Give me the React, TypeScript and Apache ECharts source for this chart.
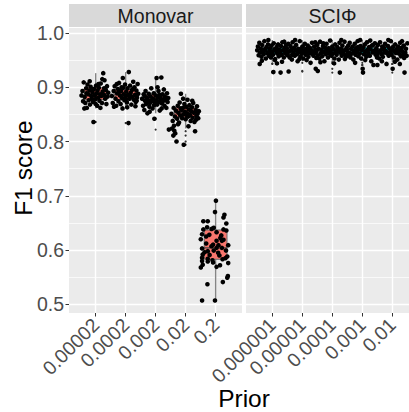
import React, { useEffect, useRef } from "react";
import * as echarts from "echarts";

// Prior values on each facet's x axis
const monovarPriors = ["0.00002", "0.0002", "0.002", "0.02", "0.2"];
const sciphiPriors = ["0.000001", "0.00001", "0.0001", "0.001", "0.01"];
const yTicks = [0.5, 0.6, 0.7, 0.8, 0.9, 1.0];
const yMinorTicks = [0.55, 0.65, 0.75, 0.85, 0.95];

// F1 score of each run, as [horizontal jitter, F1]
const monovar1 = [
  [-0.42, 0.893], [-0.38, 0.909], [-0.35, 0.882], [-0.33, 0.871], [-0.3, 0.898], [-0.28, 0.862], [-0.26, 0.905],
  [-0.24, 0.887], [-0.22, 0.876], [-0.2, 0.894], [-0.18, 0.868], [-0.16, 0.901], [-0.14, 0.884], [-0.12, 0.879],
  [-0.1, 0.891], [-0.08, 0.873], [-0.07, 0.836], [-0.05, 0.897], [-0.03, 0.885], [-0.01, 0.878], [0.01, 0.903],
  [0.03, 0.889], [0.05, 0.866], [0.06, 0.894], [0.08, 0.881], [0.1, 0.899], [0.12, 0.875], [0.14, 0.887],
  [0.16, 0.907], [0.18, 0.884], [0.2, 0.871], [0.22, 0.892], [0.24, 0.926], [0.26, 0.886], [0.28, 0.913],
  [0.3, 0.879], [0.32, 0.895], [0.34, 0.869], [0.36, 0.902], [0.38, 0.883], [-0.4, 0.874], [-0.36, 0.861],
  [-0.19, 0.911], [-0.11, 0.896], [0.0, 0.869], [0.09, 0.906], [0.15, 0.862], [0.27, 0.898], [0.33, 0.882],
  [-0.29, 0.889], [0.21, 0.915], [-0.45, 0.885], [0.4, 0.89],
];
const monovar2 = [
  [-0.44, 0.884], [-0.41, 0.871], [-0.38, 0.893], [-0.35, 0.902], [-0.32, 0.879], [-0.3, 0.866], [-0.27, 0.889],
  [-0.25, 0.897], [-0.23, 0.874], [-0.21, 0.908], [-0.18, 0.885], [-0.16, 0.869], [-0.14, 0.893], [-0.12, 0.88],
  [-0.1, 0.861], [-0.08, 0.899], [-0.06, 0.887], [-0.04, 0.876], [-0.02, 0.905], [0.0, 0.883], [0.02, 0.892],
  [0.04, 0.872], [0.06, 0.898], [0.08, 0.886], [0.09, 0.834], [0.1, 0.928], [0.12, 0.879], [0.14, 0.903],
  [0.16, 0.89], [0.18, 0.868], [0.2, 0.895], [0.22, 0.882], [0.24, 0.91], [0.26, 0.877], [0.28, 0.9],
  [0.3, 0.886], [0.32, 0.873], [0.34, 0.894], [0.36, 0.881], [0.38, 0.906], [0.4, 0.888], [-0.37, 0.864],
  [-0.2, 0.892], [-0.09, 0.917], [0.05, 0.863], [0.13, 0.885], [0.23, 0.897], [0.31, 0.865], [-0.28, 0.906],
  [0.35, 0.875], [0.01, 0.878], [-0.13, 0.9],
];
const monovar3 = [
  [-0.43, 0.879], [-0.4, 0.866], [-0.38, 0.887], [-0.36, 0.858], [-0.34, 0.875], [-0.32, 0.893], [-0.3, 0.869],
  [-0.28, 0.881], [-0.26, 0.852], [-0.24, 0.876], [-0.22, 0.888], [-0.2, 0.864], [-0.18, 0.871], [-0.16, 0.883],
  [-0.14, 0.898], [-0.12, 0.874], [-0.1, 0.861], [-0.08, 0.879], [-0.06, 0.889], [-0.04, 0.842], [-0.02, 0.872],
  [0.0, 0.885], [0.02, 0.876], [0.03, 0.917], [0.05, 0.868], [0.07, 0.881], [0.09, 0.893], [0.11, 0.873],
  [0.13, 0.857], [0.15, 0.884], [0.17, 0.878], [0.18, 0.918], [0.2, 0.87], [0.22, 0.887], [0.24, 0.875],
  [0.26, 0.896], [0.28, 0.866], [0.3, 0.882], [0.32, 0.877], [0.34, 0.862], [0.36, 0.889], [0.38, 0.873],
  [0.4, 0.88], [-0.35, 0.884], [-0.19, 0.855], [-0.11, 0.877], [0.06, 0.9], [0.19, 0.861], [0.27, 0.879],
  [-0.27, 0.871], [0.12, 0.886], [-0.05, 0.867], [0.42, 0.822],
];
const monovar4 = [
  [-0.45, 0.851], [-0.43, 0.824], [-0.41, 0.838], [-0.39, 0.811], [-0.37, 0.829], [-0.36, 0.82], [-0.34, 0.846],
  [-0.33, 0.815], [-0.31, 0.857], [-0.29, 0.8], [-0.27, 0.842], [-0.25, 0.866], [-0.23, 0.853], [-0.21, 0.835],
  [-0.19, 0.872], [-0.17, 0.848], [-0.15, 0.888], [-0.13, 0.858], [-0.11, 0.843], [-0.09, 0.862], [-0.07, 0.85],
  [-0.06, 0.794], [-0.04, 0.869], [-0.02, 0.855], [0.0, 0.841], [0.02, 0.864], [0.04, 0.852], [0.06, 0.877],
  [0.08, 0.846], [0.1, 0.859], [0.12, 0.867], [0.14, 0.849], [0.16, 0.838], [0.18, 0.856], [0.2, 0.863],
  [0.22, 0.844], [0.24, 0.871], [0.26, 0.853], [0.28, 0.836], [0.3, 0.819], [0.32, 0.858], [0.34, 0.847],
  [0.36, 0.865], [0.38, 0.851], [0.4, 0.843], [0.42, 0.856], [-0.38, 0.862], [-0.24, 0.832], [-0.08, 0.879],
  [0.09, 0.828], [0.21, 0.875], [0.33, 0.84], [-0.16, 0.861], [0.05, 0.847],
];
const monovar5 = [
  [0.01, 0.691], [-0.02, 0.67], [0.28, 0.665], [0.25, 0.66], [0.34, 0.649], [-0.39, 0.653], [-0.25, 0.653],
  [-0.27, 0.642], [-0.39, 0.638], [-0.13, 0.639], [-0.06, 0.641], [0.25, 0.638], [0.34, 0.636], [0.03, 0.633],
  [-0.43, 0.629], [-0.3, 0.625], [-0.47, 0.62], [0.25, 0.619], [0.03, 0.617], [0.2, 0.617], [-0.08, 0.61],
  [0.09, 0.609], [0.4, 0.609], [-0.3, 0.612], [-0.13, 0.607], [0.03, 0.604], [0.2, 0.604], [-0.43, 0.603],
  [-0.25, 0.598], [-0.06, 0.599], [0.33, 0.599], [-0.41, 0.592], [-0.19, 0.591], [0.12, 0.59], [-0.43, 0.586],
  [-0.25, 0.584], [-0.1, 0.581], [0.31, 0.585], [0.37, 0.588], [-0.43, 0.58], [-0.25, 0.579], [-0.08, 0.577],
  [0.03, 0.569], [0.14, 0.572], [-0.41, 0.573], [-0.47, 0.568], [0.39, 0.552], [0.37, 0.549], [0.23, 0.541],
  [-0.26, 0.537], [-0.43, 0.507], [-0.02, 0.507], [0.15, 0.622], [-0.2, 0.628], [0.08, 0.595], [-0.35, 0.596],
  [0.22, 0.583], [0.4, 0.576], [0.18, 0.627],
];

const sciphi1 = [
  [-0.42, 0.968], [-0.4, 0.975], [-0.38, 0.959], [-0.36, 0.982], [-0.34, 0.964], [-0.35, 0.943], [-0.32, 0.971],
  [-0.3, 0.956], [-0.28, 0.978], [-0.26, 0.966], [-0.24, 0.961], [-0.22, 0.985], [-0.2, 0.969], [-0.18, 0.953],
  [-0.16, 0.974], [-0.14, 0.963], [-0.12, 0.979], [-0.1, 0.958], [-0.08, 0.967], [-0.06, 0.972], [-0.04, 0.955],
  [-0.02, 0.977], [0.0, 0.965], [0.02, 0.96], [0.03, 0.928], [0.04, 0.981], [0.06, 0.97], [0.08, 0.952],
  [0.1, 0.967], [0.12, 0.974], [0.13, 0.944], [0.14, 0.962], [0.16, 0.979], [0.18, 0.957], [0.2, 0.969],
  [0.22, 0.965], [0.23, 0.927], [0.24, 0.976], [0.26, 0.96], [0.28, 0.983], [0.3, 0.968], [0.32, 0.955],
  [0.34, 0.973], [0.36, 0.963], [0.38, 0.978], [0.4, 0.966], [0.42, 0.959], [-0.29, 0.949], [-0.11, 0.987],
  [0.07, 0.95], [0.27, 0.947], [-0.19, 0.971], [0.15, 0.968], [0.33, 0.984], [-0.05, 0.962],
];
const sciphi2 = [
  [-0.43, 0.972], [-0.41, 0.961], [-0.39, 0.98], [-0.38, 0.929], [-0.37, 0.966], [-0.35, 0.955], [-0.33, 0.976],
  [-0.31, 0.969], [-0.29, 0.951], [-0.27, 0.983], [-0.25, 0.963], [-0.23, 0.973], [-0.21, 0.958], [-0.19, 0.968],
  [-0.17, 0.978], [-0.15, 0.961], [-0.13, 0.948], [-0.11, 0.971], [-0.09, 0.965], [-0.07, 0.985], [-0.05, 0.957],
  [-0.03, 0.969], [-0.01, 0.962], [0.01, 0.975], [0.03, 0.953], [0.05, 0.967], [0.07, 0.98], [0.09, 0.96],
  [0.11, 0.971], [0.13, 0.964], [0.15, 0.977], [0.17, 0.956], [0.19, 0.968], [0.21, 0.973], [0.23, 0.945],
  [0.25, 0.962], [0.27, 0.982], [0.29, 0.966], [0.31, 0.958], [0.33, 0.975], [0.35, 0.963], [0.37, 0.97],
  [0.39, 0.954], [0.41, 0.979], [0.43, 0.93], [-0.2, 0.987], [-0.08, 0.952], [0.0, 0.974], [0.12, 0.95],
  [0.24, 0.969], [0.36, 0.983], [-0.28, 0.96], [0.18, 0.963], [-0.12, 0.966],
];
const sciphi3 = [
  [-0.44, 0.966], [-0.46, 0.934], [-0.42, 0.978], [-0.4, 0.959], [-0.38, 0.971], [-0.36, 0.953], [-0.34, 0.984],
  [-0.32, 0.963], [-0.3, 0.969], [-0.28, 0.957], [-0.26, 0.976], [-0.24, 0.965], [-0.22, 0.948], [-0.2, 0.973],
  [-0.18, 0.961], [-0.16, 0.98], [-0.14, 0.967], [-0.12, 0.955], [-0.1, 0.972], [-0.08, 0.963], [-0.06, 0.986],
  [-0.04, 0.968], [-0.02, 0.958], [0.0, 0.975], [0.02, 0.962], [0.04, 0.97], [0.06, 0.953], [0.08, 0.979],
  [0.1, 0.965], [0.12, 0.96], [0.14, 0.974], [0.16, 0.968], [0.18, 0.951], [0.2, 0.982], [0.21, 0.927],
  [0.22, 0.964], [0.24, 0.971], [0.26, 0.958], [0.28, 0.977], [0.3, 0.966], [0.32, 0.961], [0.34, 0.984],
  [0.36, 0.969], [0.38, 0.956], [0.4, 0.973], [0.42, 0.963], [-0.33, 0.946], [-0.15, 0.971], [0.05, 0.944],
  [0.25, 0.987], [-0.05, 0.96], [0.13, 0.966], [0.35, 0.952], [-0.25, 0.981],
];
const sciphi4 = [
  [-0.43, 0.969], [-0.41, 0.958], [-0.39, 0.977], [-0.37, 0.964], [-0.35, 0.982], [-0.33, 0.955], [-0.31, 0.971],
  [-0.29, 0.962], [-0.27, 0.975], [-0.25, 0.951], [-0.23, 0.967], [-0.21, 0.98], [-0.19, 0.96], [-0.17, 0.972],
  [-0.15, 0.965], [-0.13, 0.985], [-0.11, 0.957], [-0.09, 0.97], [-0.07, 0.962], [-0.05, 0.976], [-0.03, 0.953],
  [-0.01, 0.968], [0.01, 0.934], [0.02, 0.927], [0.03, 0.973], [0.05, 0.961], [0.07, 0.979], [0.09, 0.966],
  [0.11, 0.956], [0.13, 0.983], [0.15, 0.969], [0.17, 0.963], [0.19, 0.974], [0.21, 0.958], [0.23, 0.97],
  [0.25, 0.948], [0.27, 0.977], [0.29, 0.964], [0.31, 0.941], [0.33, 0.967], [0.35, 0.981], [0.37, 0.96],
  [0.39, 0.972], [0.41, 0.955], [0.42, 0.941], [-0.2, 0.945], [-0.06, 0.987], [0.08, 0.95], [0.22, 0.986],
  [0.36, 0.966], [-0.34, 0.96], [-0.12, 0.974], [0.16, 0.959], [0.3, 0.978],
];
const sciphi5 = [
  [-0.44, 0.97], [-0.42, 0.959], [-0.4, 0.978], [-0.38, 0.965], [-0.36, 0.953], [-0.34, 0.983], [-0.32, 0.968],
  [-0.3, 0.961], [-0.28, 0.975], [-0.26, 0.956], [-0.24, 0.971], [-0.22, 0.964], [-0.2, 0.98], [-0.18, 0.967],
  [-0.16, 0.943], [-0.14, 0.962], [-0.12, 0.976], [-0.1, 0.958], [-0.08, 0.972], [-0.06, 0.965], [-0.04, 0.985],
  [-0.02, 0.96], [0.0, 0.969], [0.01, 0.934], [0.02, 0.974], [0.04, 0.955], [0.06, 0.966], [0.08, 0.979],
  [0.1, 0.963], [0.12, 0.97], [0.14, 0.951], [0.16, 0.975], [0.18, 0.962], [0.2, 0.968], [0.21, 0.943],
  [0.22, 0.982], [0.24, 0.957], [0.26, 0.973], [0.28, 0.966], [0.3, 0.96], [0.32, 0.977], [0.34, 0.927],
  [0.36, 0.964], [0.38, 0.971], [0.4, 0.958], [0.42, 0.981], [-0.29, 0.948], [-0.11, 0.987], [0.07, 0.947],
  [0.27, 0.985], [-0.23, 0.973], [0.13, 0.965], [0.33, 0.954], [-0.05, 0.963],
];

const monovarRuns = [monovar1, monovar2, monovar3, monovar4, monovar5];
const sciphiRuns = [sciphi1, sciphi2, sciphi3, sciphi4, sciphi5];

// Box summaries: [lower whisker, Q1, median, Q3, upper whisker]
const monovarBoxes = [
  [0.861, 0.877, 0.888, 0.899, 0.926],
  [0.861, 0.877, 0.886, 0.896, 0.928],
  [0.852, 0.872, 0.878, 0.887, 0.918],
  [0.824, 0.845, 0.853, 0.862, 0.888],
  [0.507, 0.583, 0.604, 0.637, 0.691],
];
const sciphiBoxes = [
  [0.947, 0.961, 0.967, 0.973, 0.987],
  [0.948, 0.962, 0.968, 0.973, 0.987],
  [0.947, 0.961, 0.967, 0.973, 0.987],
  [0.948, 0.962, 0.967, 0.974, 0.987],
  [0.947, 0.961, 0.967, 0.973, 0.987],
];
// Values beyond the whiskers
const monovarOutliers = [[0.836], [0.834], [0.842, 0.822], [0.819, 0.811, 0.8, 0.794], []];
const sciphiOutliers = [
  [0.944, 0.943, 0.928, 0.927],
  [0.945, 0.93, 0.929],
  [0.946, 0.944, 0.934, 0.927],
  [0.945, 0.941, 0.941, 0.934, 0.927],
  [0.943, 0.943, 0.934, 0.927],
];

const FONT = "'Liberation Sans', Arial, Helvetica, sans-serif";
const TICK_FONT = 19.5;
const TITLE_FONT = 24.5;
const PANEL_TOP = 28;
const PANEL_H = 285;
const LEFT_PANEL = { x: 69, w: 173 };
const RIGHT_PANEL = { x: 246, w: 163 };
const Y_MIN = 0.484;
const Y_MAX = 1.0092;
const BOX_W = 0.76;
// horizontal spread of the jittered points, per facet
const MONOVAR_SPREAD = 1.05;
const SCIPHI_SPREAD = 1.2;

const boxRenderer = (fill: string) => (_params: any, api: any) => {
  const i = api.value(0);
  const lo = api.coord([i, api.value(1)]);
  const q1 = api.coord([i, api.value(2)]);
  const md = api.coord([i, api.value(3)]);
  const q3 = api.coord([i, api.value(4)]);
  const hi = api.coord([i, api.value(5)]);
  const half = api.size([BOX_W, 0])[0] / 2;
  const x = md[0];
  const whisker = { stroke: "#858585", lineWidth: 1.4 };
  return {
    type: "group",
    children: [
      { type: "line", shape: { x1: x, y1: hi[1], x2: x, y2: q3[1] }, style: whisker },
      { type: "line", shape: { x1: x, y1: q1[1], x2: x, y2: lo[1] }, style: whisker },
      {
        type: "rect",
        shape: { x: x - half, y: q3[1], width: half * 2, height: q1[1] - q3[1] },
        style: { fill, stroke: "#6a6a6a", lineWidth: 1 },
      },
      {
        type: "line",
        shape: { x1: x - half, y1: md[1], x2: x + half, y2: md[1] },
        style: { stroke: "#4a4a4a", lineWidth: 1.3 },
      },
    ],
  };
};

const jittered = (runs: number[][][], spread: number) =>
  runs.flatMap((g, i) => g.map(([dx, y]) => [i + dx * spread, y]));
const outlierPoints = (groups: number[][]) => groups.flatMap((g, i) => g.map((y) => [i, y]));

// white panel grid: major lines on the ticks, thin lines half-way between
const gridLines = (grid: number) => ({
  type: "line",
  xAxisIndex: grid,
  yAxisIndex: grid,
  data: [],
  z: 1,
  silent: true,
  markLine: {
    z: 1,
    silent: true,
    symbol: ["none", "none"],
    label: { show: false },
    emphasis: { disabled: true },
    animation: false,
    data: [
      ...yMinorTicks.map((v) => ({ yAxis: v, lineStyle: { color: "#FFFFFF", width: 0.7, type: "solid" } })),
      ...yTicks.map((v) => ({ yAxis: v, lineStyle: { color: "#FFFFFF", width: 1.4, type: "solid" } })),
      ...[0, 1, 2, 3, 4].map((v) => ({ xAxis: v, lineStyle: { color: "#FFFFFF", width: 1.4, type: "solid" } })),
    ],
  },
});

function xAxisFor(grid: number, min: number, max: number, labels: string[]) {
  return {
    type: "value",
    gridIndex: grid,
    min,
    max,
    axisLine: { show: false, onZero: false },
    axisTick: {
      show: true,
      length: 3.5,
      lineStyle: { color: "#333333", width: 1 },
      customValues: [0, 1, 2, 3, 4],
    },
    axisLabel: {
      rotate: 45,
      margin: 8.5,
      padding: [10, 0, 0, 0],
      fontSize: TICK_FONT,
      fontFamily: FONT,
      color: "#4D4D4D",
      customValues: [0, 1, 2, 3, 4],
      formatter: (v: number) => {
        const k = Math.round(v);
        return Math.abs(v - k) < 1e-6 && labels[k] !== undefined ? labels[k] : "";
      },
    },
    splitLine: { show: false },
  };
}

function yAxisFor(grid: number, withLabels: boolean) {
  return {
    type: "value",
    gridIndex: grid,
    min: Y_MIN,
    max: Y_MAX,
    axisLine: { show: false, onZero: false },
    axisTick: {
      show: withLabels,
      length: 3.5,
      lineStyle: { color: "#333333", width: 1 },
      customValues: yTicks,
    },
    axisLabel: {
      show: withLabels,
      margin: 5,
      fontSize: TICK_FONT,
      fontFamily: FONT,
      color: "#4D4D4D",
      customValues: yTicks,
      formatter: (v: number) => v.toFixed(1),
    },
    splitLine: { show: false },
  };
}

const stripText = (text: string, x: number) => ({
  type: "text",
  x,
  y: 16,
  style: { text, fill: "#1A1A1A", font: `${TICK_FONT}px ${FONT}`, textAlign: "center", textVerticalAlign: "middle" },
});

export default function App() {
  const ref = useRef<HTMLDivElement>(null);

  useEffect(() => {
    if (!ref.current) return;
    const chart = echarts.init(ref.current, null, { renderer: "svg" });

    const option: any = {
      animation: false,
      backgroundColor: "#FFFFFF",
      grid: [
        { left: LEFT_PANEL.x, top: PANEL_TOP, width: LEFT_PANEL.w, height: PANEL_H, show: false },
        { left: RIGHT_PANEL.x, top: PANEL_TOP, width: RIGHT_PANEL.w, height: PANEL_H, show: false },
      ],
      xAxis: [
        xAxisFor(0, -0.89, 4.88, monovarPriors),
        xAxisFor(1, -0.877, 4.557, sciphiPriors),
      ],
      yAxis: [yAxisFor(0, true), yAxisFor(1, false)],
      graphic: [
        // panel backgrounds
        { type: "rect", z: -1, shape: { x: LEFT_PANEL.x, y: PANEL_TOP, width: LEFT_PANEL.w, height: PANEL_H }, style: { fill: "#EBEBEB" } },
        { type: "rect", z: -1, shape: { x: RIGHT_PANEL.x, y: PANEL_TOP, width: RIGHT_PANEL.w, height: PANEL_H }, style: { fill: "#EBEBEB" } },
        // facet strips
        { type: "rect", shape: { x: LEFT_PANEL.x, y: 4, width: LEFT_PANEL.w, height: 23 }, style: { fill: "#D9D9D9" } },
        { type: "rect", shape: { x: RIGHT_PANEL.x, y: 4, width: RIGHT_PANEL.w, height: 23 }, style: { fill: "#D9D9D9" } },
        stripText("Monovar", 155.5),
        stripText("SCIΦ", 332.5),
        {
          type: "text",
          x: 23,
          y: 168,
          rotation: Math.PI / 2,
          style: { text: "F1 score", fill: "#000000", font: `${TITLE_FONT}px ${FONT}`, textAlign: "center", textVerticalAlign: "middle" },
        },
        {
          type: "text",
          x: 244,
          y: 398,
          style: { text: "Prior", fill: "#000000", font: `${TITLE_FONT}px ${FONT}`, textAlign: "center", textVerticalAlign: "middle" },
        },
      ],
      series: [
        gridLines(0),
        gridLines(1),
        {
          type: "custom",
          name: "Monovar",
          xAxisIndex: 0,
          yAxisIndex: 0,
          renderItem: boxRenderer("#F8766D"),
          encode: { x: 0, y: [1, 2, 3, 4, 5] },
          data: monovarBoxes.map((b, i) => [i, ...b]),
          z: 2,
        },
        {
          type: "custom",
          name: "SCIΦ",
          xAxisIndex: 1,
          yAxisIndex: 1,
          renderItem: boxRenderer("#00BFC4"),
          encode: { x: 0, y: [1, 2, 3, 4, 5] },
          data: sciphiBoxes.map((b, i) => [i, ...b]),
          z: 2,
        },
        {
          type: "scatter",
          xAxisIndex: 0,
          yAxisIndex: 0,
          symbolSize: 2.2,
          itemStyle: { color: "#333333", opacity: 1 },
          data: outlierPoints(monovarOutliers),
          z: 3,
        },
        {
          type: "scatter",
          xAxisIndex: 1,
          yAxisIndex: 1,
          symbolSize: 2.2,
          itemStyle: { color: "#333333", opacity: 1 },
          data: outlierPoints(sciphiOutliers),
          z: 3,
        },
        {
          type: "scatter",
          xAxisIndex: 0,
          yAxisIndex: 0,
          symbolSize: 4.6,
          itemStyle: { color: "#000000", opacity: 1 },
          data: jittered(monovarRuns, MONOVAR_SPREAD),
          z: 4,
        },
        {
          type: "scatter",
          xAxisIndex: 1,
          yAxisIndex: 1,
          symbolSize: 4.6,
          itemStyle: { color: "#000000", opacity: 1 },
          data: jittered(sciphiRuns, SCIPHI_SPREAD),
          clip: true,
          z: 4,
        },
      ],
    };

    chart.setOption(option);
    return () => chart.dispose();
  }, []);

  return (
    <div
      ref={ref}
      style={{ position: "absolute", left: 0, top: 0, width: 409, height: 412 }}
    />
  );
}
